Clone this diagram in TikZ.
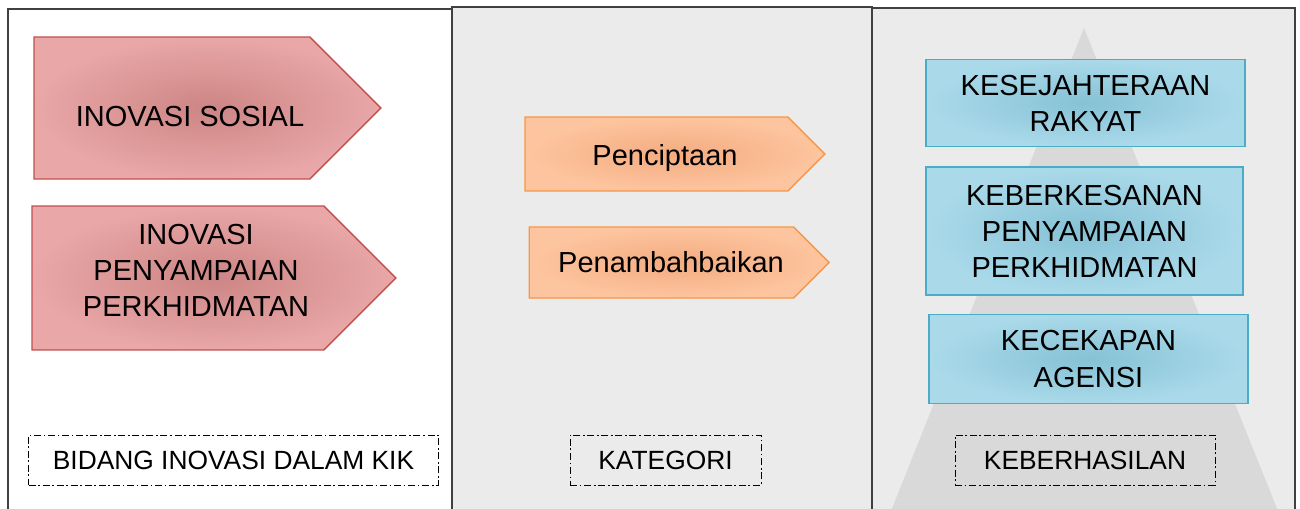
\documentclass[tikz,border=0pt]{standalone}
\usepackage{fontspec}
\setmainfont{Liberation Sans}
\usetikzlibrary{shapes.symbols}
\definecolor{panelgray}{HTML}{EBEBEB}
\definecolor{framegray}{HTML}{404040}
\definecolor{pyramidgray}{HTML}{D9D9D9}
\definecolor{redinner}{HTML}{CD8585}
\definecolor{redouter}{HTML}{E9A7A7}
\definecolor{redline}{HTML}{C0504D}
\definecolor{orangeinner}{HTML}{F4AB80}
\definecolor{orangeouter}{HTML}{FDC59F}
\definecolor{orangeline}{HTML}{F79646}
\definecolor{blueinner}{HTML}{86C1D5}
\definecolor{blueouter}{HTML}{AADAEA}
\definecolor{blueline}{HTML}{4BACC6}

\begin{document}
\begin{tikzpicture}[
        x=0.02cm, y=-0.02cm,
        panel/.style={draw=framegray, line width=0.9pt},
        redarrow/.style={signal, signal to=east, signal pointer angle=90, draw=redline, line width=0.8pt, inner color=redinner, outer color=redouter, inner sep=0pt},
        orangearrow/.style={signal, signal to=east, signal pointer angle=90, draw=orangeline, line width=0.8pt, inner color=orangeinner, outer color=orangeouter, inner sep=0pt},
        bluebox/.style={rectangle, draw=blueline, line width=0.8pt, inner color=blueinner, outer color=blueouter, minimum width=6.38cm, align=center, font=\fontsize{16.5}{20.5}\selectfont},
        bigtext/.style={align=center, inner sep=0pt, font=\fontsize{16.5}{20.5}\selectfont},
        caption/.style={rectangle, draw=black, line width=0.5pt, dash pattern=on 4pt off 1.5pt on 1pt off 1.5pt, minimum height=1cm, font=\fontsize{15}{18}\selectfont}
    ]
    \useasboundingbox (0,0) rectangle (1300,508);

    % Panels
    \draw[panel, fill=white] (8,9) rectangle (452,520);
    \draw[panel, fill=panelgray] (452,7) rectangle (872,520);
    \draw[panel, fill=panelgray] (872,8) rectangle (1295,520);

    % Pyramid behind the results
    \fill[pyramidgray] (1084,28) -- (889,516) -- (1280,516) -- cycle;

    % Bidang inovasi
    \node[redarrow, minimum width=6.94cm, minimum height=2.84cm] (sosial) at (172,108) {};
    \node[bigtext, anchor=base] (sosialtext) at (190,126) {INOVASI SOSIAL};
    \node[redarrow, minimum width=7.28cm, minimum height=2.88cm] (penyampaian) at (178,278) {};
    \node[bigtext] (penyampaiantext) at (196,270) {INOVASI\\ PENYAMPAIAN\\ PERKHIDMATAN};

    % Kategori
    \node[orangearrow, minimum width=6cm, minimum height=1.48cm] (cipta) at (656.5,154) {};
    \node[bigtext, anchor=base] (ciptatext) at (665,165) {Penciptaan};
    \node[orangearrow, minimum width=6cm, minimum height=1.42cm] (tambah) at (661.5,262.5) {};
    \node[bigtext, anchor=base] (tambahtext) at (671,272) {Penambahbaikan};

    % Keberhasilan
    \node[bluebox, minimum height=1.74cm] (rakyat) at (1085.5,103) {KESEJAHTERAAN\\ RAKYAT};
    \node[bluebox, minimum width=6.34cm, minimum height=2.56cm] (keberkesanan) at (1084.5,231) {KEBERKESANAN\\ PENYAMPAIAN\\ PERKHIDMATAN};
    \node[bluebox, minimum height=1.78cm] (agensi) at (1088.5,359) {KECEKAPAN\\ AGENSI};

    % Captions
    \node[caption, minimum width=8.2cm] (bidang) at (233.5,460) {BIDANG INOVASI DALAM KIK};
    \node[caption, minimum width=3.82cm] (kategori) at (665.5,460) {KATEGORI};
    \node[caption, minimum width=5.2cm] (hasil) at (1085,460) {KEBERHASILAN};

\end{tikzpicture}
\end{document}
